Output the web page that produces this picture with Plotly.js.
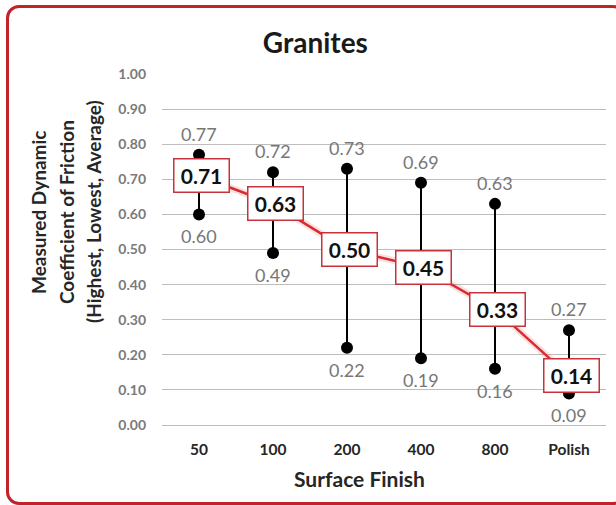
<!DOCTYPE html>
<html>
<head>
<meta charset="utf-8">
<script src="https://cdn.plot.ly/plotly-3.0.1.min.js"></script>
<style>
  html, body { margin: 0; padding: 0; background: #ffffff; }
  #wrap { position: relative; width: 616px; height: 505px; overflow: hidden; }
  #chart { position: absolute; left: 0; top: 0; width: 616px; height: 505px; }
  #frame {
    position: absolute; left: 6px; top: 5px; width: 614px; height: 494px;
    border: 3px solid #C1232B; border-radius: 13px; pointer-events: none;
  }
</style>
</head>
<body>
<div id="wrap">
  <div id="chart"></div>
  <div id="frame"></div>
</div>
<script>
// Surface finishes (grit) tested on granite
const finishes = ["50", "100", "200", "400", "800", "Polish"];
// Measured dynamic coefficient of friction per finish
const highest = [0.77, 0.72, 0.73, 0.69, 0.63, 0.27];
const lowest  = [0.60, 0.49, 0.22, 0.19, 0.16, 0.09];
const average = [0.71, 0.63, 0.50, 0.45, 0.33, 0.14];
// axis titles (y title one entry per line)
const xTitle = "Surface Finish";
const yTitleLines = ["Measured Dynamic", "Coefficient of Friction", "(Highest, Lowest, Average)"];

const FONT = "Lato, 'Open Sans', sans-serif";
const RED = "#DA2A30";
const GREY_TXT = "#777777";
const fmt = v => v.toFixed(2);

// one slot per finish on the x axis
const pos = finishes.map((_, i) => i);

// vertical high-low ranges, one segment per finish (null breaks between)
const rangeX = [], rangeY = [];
pos.forEach((p, i) => {
  rangeX.push(p, p, null);
  rangeY.push(lowest[i], highest[i], null);
});

const traces = [
  {
    x: rangeX, y: rangeY, mode: "lines", type: "scatter",
    line: { color: "#000000", width: 2 }, hoverinfo: "skip", showlegend: false
  },
  {
    x: pos, y: highest, mode: "markers", type: "scatter",
    marker: { color: "#000000", size: 12 }, cliponaxis: false, showlegend: false
  },
  {
    x: pos, y: lowest, mode: "markers", type: "scatter",
    marker: { color: "#000000", size: 12 }, cliponaxis: false, showlegend: false
  },
  // soft glow under the average line
  {
    x: pos, y: average, mode: "lines", type: "scatter",
    line: { color: "rgba(218,42,48,0.15)", width: 7 },
    hoverinfo: "skip", showlegend: false
  },
  {
    x: pos, y: average, mode: "lines", type: "scatter",
    line: { color: RED, width: 2.5 }, showlegend: false
  }
];

const annotations = [];
// plain value labels above the highs and below the lows
pos.forEach((p, i) => {
  annotations.push({
    x: p, y: highest[i], xref: "x", yref: "y", showarrow: false,
    text: fmt(highest[i]), yanchor: "middle", yshift: 21,
    font: { family: FONT, size: 18, color: GREY_TXT }
  });
  annotations.push({
    x: p, y: lowest[i], xref: "x", yref: "y", showarrow: false,
    text: fmt(lowest[i]), yanchor: "middle", yshift: -22,
    font: { family: FONT, size: 18, color: GREY_TXT }
  });
});
// boxed average labels
pos.forEach((p, i) => {
  annotations.push({
    x: p, y: average[i], xref: "x", yref: "y",
    text: "<b>" + fmt(average[i]) + "</b>",
    showarrow: false, xshift: 2,
    font: { family: FONT, size: 21, color: "#111111" },
    bgcolor: "#ffffff", bordercolor: "#C8323A", borderwidth: 1.5,
    borderpad: 2, width: 50, height: 28
  });
});
// rotated y-axis title lines (positions in page pixels, converted below)
const yTitleX = [38, 66, 93];
yTitleLines.forEach((t, i) => {
  annotations.push({
    x: yTitleX[i], y: 212, xref: "paper", yref: "paper",
    text: "<b>" + t + "</b>", textangle: -90, showarrow: false,
    xanchor: "center", yanchor: "middle",
    font: { family: FONT, size: 19, color: "#262626" }
  });
});
// x-axis title, centred under the whole chart
annotations.push({
  x: 359, y: 478, xref: "paper", yref: "paper",
  text: "<b>" + xTitle + "</b>", showarrow: false,
  xanchor: "center", yanchor: "middle",
  font: { family: FONT, size: 21, color: "#262626" }
});

const layout = {
  width: 616, height: 505,
  margin: { l: 162, r: 10, t: 74, b: 80 },
  paper_bgcolor: "#ffffff", plot_bgcolor: "#ffffff",
  font: { family: FONT },
  title: {
    text: "<b>Granites</b>",
    font: { family: FONT, size: 28, color: "#1a1a1a" },
    x: 0.512, xanchor: "center", y: 0.915, yanchor: "middle"
  },
  xaxis: {
    range: [-0.5, finishes.length - 0.5],
    tickvals: pos, ticktext: finishes,
    showgrid: false, zeroline: false, showline: false, ticks: "",
    tickfont: { family: FONT, size: 15.5, color: "#262626", weight: "bold" },
    ticklabelstandoff: 13
  },
  yaxis: {
    range: [0, 1], dtick: 0.1, tickformat: ".2f",
    showgrid: true, gridcolor: "#bdbdbd", gridwidth: 1,
    zeroline: true, zerolinecolor: "#bdbdbd", zerolinewidth: 1,
    showline: false, ticks: "",
    tickfont: { family: FONT, size: 14, color: "#7a7a7a", weight: "bold" },
    ticklabelstandoff: 15
  },
  annotations: annotations,
  showlegend: false
};

// pixel-placed annotations: convert page pixels to paper fractions
const plotW = layout.width - layout.margin.l - layout.margin.r;
const plotH = layout.height - layout.margin.t - layout.margin.b;
layout.annotations.forEach(a => {
  if (a.xref === "paper") {
    a.x = (a.x - layout.margin.l) / plotW;
    a.y = (layout.height - layout.margin.b - a.y) / plotH;
  }
});

Plotly.newPlot("chart", traces, layout, { displayModeBar: false, staticPlot: true });
</script>
</body>
</html>
